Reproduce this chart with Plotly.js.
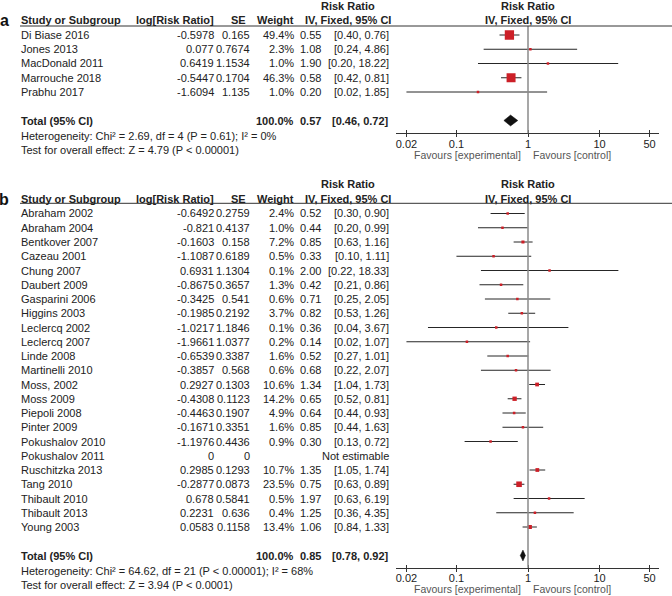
<!DOCTYPE html>
<html><head><meta charset="utf-8">
<script src="https://cdn.plot.ly/plotly-3.0.1.min.js"></script>
<style>html,body{margin:0;padding:0;background:#fff}</style>
</head><body>
<div id="chart" style="width:672px;height:596px"></div>
<script>
// ---------- Panel a data ----------
const studiesA = ['Di Biase 2016','Jones 2013','MacDonald 2011','Marrouche 2018','Prabhu 2017'];
const logRRA = [-0.5978, 0.077, 0.6419, -0.5447, -1.6094];
const seA = [0.165, 0.7674, 1.1534, 0.1704, 1.135];
const weightA = [49.4, 2.3, 1.0, 46.3, 1.0];
const rrA = [0.55, 1.08, 1.90, 0.58, 0.20];
const loA = [0.40, 0.24, 0.20, 0.42, 0.02];
const hiA = [0.76, 4.86, 18.22, 0.81, 1.85];
const totalA = [0.57, 0.46, 0.72];
const hetA = 'Heterogeneity: Chi² = 2.69, df = 4 (P = 0.61); I² = 0%';
const testA = 'Test for overall effect: Z = 4.79 (P < 0.00001)';

// ---------- Panel b data ----------
const studiesB = ['Abraham 2002','Abraham 2004','Bentkover 2007','Cazeau 2001','Chung 2007','Daubert 2009','Gasparini 2006','Higgins 2003','Leclercq 2002','Leclercq 2007','Linde 2008','Martinelli 2010','Moss, 2002','Moss 2009','Piepoli 2008','Pinter 2009','Pokushalov 2010','Pokushalov 2011','Ruschitzka 2013','Tang 2010','Thibault 2010','Thibault 2013','Young 2003'];
const logRRB = [-0.6492,-0.821,-0.1603,-1.1087,0.6931,-0.8675,-0.3425,-0.1985,-1.0217,-1.9661,-0.6539,-0.3857,0.2927,-0.4308,-0.4463,-0.1671,-1.1976,0,0.2985,-0.2877,0.678,0.2231,0.0583];
const seB = [0.2759,0.4137,0.158,0.6189,1.1304,0.3657,0.541,0.2192,1.1846,1.0377,0.3387,0.568,0.1303,0.1123,0.1907,0.3351,0.4436,0,0.1293,0.0873,0.5841,0.636,0.1158];
const weightB = [2.4,1.0,7.2,0.5,0.1,1.3,0.6,3.7,0.1,0.2,1.6,0.6,10.6,14.2,4.9,1.6,0.9,null,10.7,23.5,0.5,0.4,13.4];
const rrB = [0.52,0.44,0.85,0.33,2.00,0.42,0.71,0.82,0.36,0.14,0.52,0.68,1.34,0.65,0.64,0.85,0.30,null,1.35,0.75,1.97,1.25,1.06];
const loB = [0.30,0.20,0.63,0.10,0.22,0.21,0.25,0.53,0.04,0.02,0.27,0.22,1.04,0.52,0.44,0.44,0.13,null,1.05,0.63,0.63,0.36,0.84];
const hiB = [0.90,0.99,1.16,1.11,18.33,0.86,2.05,1.26,3.67,1.07,1.01,2.07,1.73,0.81,0.93,1.63,0.72,null,1.74,0.89,6.19,4.35,1.33];
const totalB = [0.85, 0.78, 0.92];
const hetB = 'Heterogeneity: Chi² = 64.62, df = 21 (P < 0.00001); I² = 68%';
const testB = 'Test for overall effect: Z = 3.94 (P < 0.0001)';

// ---------- Axis ticks ----------
const tickVals = [0.02, 0.1, 1, 10, 50];
const tickText = ['0.02', '0.1', '1', '10', '50'];

// ---------- Layout / style ----------
const W = 672, H = 596;
const FONT = 'Liberation Sans, Arial, Helvetica, sans-serif';
const FS = 11;
const TXT = '#222';
const X_ONE = 528, DECADE = 71.55, X_L = 396, X_R = 659;
const xRange = [(X_L - X_ONE) / DECADE, (X_R - X_ONE) / DECADE];
const COL = {label: 4, study: 21, logrr: 213.5, seHead: 245.5, se: 250, weight: 293.5, est: 320.5, ci: 388.5, rrHead: 348, plotHead: 528};

const panels = [
  {key: '', ov: '3', label: 'a', line: 26, row0: 35, step: 14.25, axis: 133.3, mk: 1.32,
   studies: studiesA, logrr: logRRA, se: seA, w: weightA, rr: rrA, lo: loA, hi: hiA, total: totalA, het: hetA, test: testA},
  {key: '2', ov: '4', label: 'b', line: 203.3, row0: 213.5, step: 14.25, axis: 567.8, mk: 1.15,
   studies: studiesB, logrr: logRRB, se: seB, w: weightB, rr: rrB, lo: loB, hi: hiB, total: totalB, het: hetB, test: testB}
];

const traces = [], annotations = [], shapes = [];
const layout = {
  width: W, height: H, margin: {l: 0, r: 0, t: 0, b: 0},
  paper_bgcolor: '#fff', plot_bgcolor: 'rgba(0,0,0,0)', showlegend: false,
  font: {family: FONT, size: FS, color: TXT}
};

function ann(text, xpx, ypx, xanchor, size, color) {
  annotations.push({text: text, xref: 'paper', yref: 'paper', x: xpx / W, y: 1 - ypx / H,
    xanchor: xanchor, yanchor: 'middle', showarrow: false, borderpad: 0, borderwidth: 0,
    font: {family: FONT, size: size || FS, color: color || TXT}});
}

panels.forEach(p => {
  const xa = 'x' + p.key, ya = 'y' + p.key, xo = 'x' + p.ov;
  const n = p.studies.length;
  const rowPx = r => p.row0 + r * p.step;

  // main axis: labels + upward tick half
  layout['xaxis' + p.key] = {type: 'log', range: xRange, domain: [X_L / W, X_R / W], anchor: ya,
    showline: true, linecolor: '#333', linewidth: 1, ticks: 'inside', ticklen: 3, tickwidth: 1, tickcolor: '#333',
    tickmode: 'array', tickvals: tickVals, ticktext: tickText, tickfont: {family: FONT, size: 11, color: TXT},
    showgrid: false, zeroline: false, fixedrange: true};
  // overlay axis: downward tick half
  layout['xaxis' + p.ov] = {type: 'log', range: xRange, anchor: ya, overlaying: xa, side: 'bottom',
    showline: false, ticks: 'outside', ticklen: 3, tickwidth: 1, tickcolor: '#333',
    tickmode: 'array', tickvals: tickVals, showticklabels: false, showgrid: false, zeroline: false, fixedrange: true};
  layout['yaxis' + p.key] = {domain: [1 - p.axis / H, 1 - p.line / H],
    range: [(p.axis - p.row0) / p.step, (p.line - p.row0) / p.step], visible: false, fixedrange: true};

  // Confidence interval lines
  const cx = [], cy = [];
  p.rr.forEach((v, i) => { if (v !== null) { cx.push(p.lo[i], p.hi[i], null); cy.push(i, i, null); } });
  traces.push({type: 'scatter', mode: 'lines', x: cx, y: cy, xaxis: xa, yaxis: ya,
    line: {color: '#262626', width: 1}, hoverinfo: 'skip'});

  // Weighted squares
  const mx = [], my = [], ms = [];
  p.rr.forEach((v, i) => { if (v !== null) { mx.push(v); my.push(i); ms.push(Math.max(2.5, p.mk * Math.sqrt(p.w[i]))); } });
  traces.push({type: 'scatter', mode: 'markers', x: mx, y: my, xaxis: xa, yaxis: ya, opacity: 1,
    marker: {symbol: 'square', size: ms, color: '#cc1f27', opacity: 1, line: {width: 0}}, hoverinfo: 'skip'});

  // Pooled diamond
  const T = n + 1, h = 0.38;
  traces.push({type: 'scatter', mode: 'lines', fill: 'toself', fillcolor: '#111',
    x: [p.total[1], p.total[0], p.total[2], p.total[0], p.total[1]],
    y: [T, T - h, T, T + h, T], xaxis: xa, yaxis: ya, line: {color: '#111', width: 0.5}, hoverinfo: 'skip'});

  // dummy for overlay tick axis
  traces.push({type: 'scatter', mode: 'markers', x: [1], y: [0], xaxis: xo, yaxis: ya,
    marker: {opacity: 0, size: 1}, hoverinfo: 'skip'});

  // Reference line at RR = 1 and header rule
  shapes.push({type: 'line', xref: xa, x0: 1, x1: 1, yref: ya + ' domain', y0: 0, y1: 1,
    line: {color: '#8a8a8a', width: 1.5}});
  shapes.push({type: 'line', xref: 'paper', x0: 20 / W, x1: 1, yref: 'paper', y0: 1 - p.line / H, y1: 1 - p.line / H,
    line: {color: '#333', width: 1}});

  // Header text
  const h1 = rowPx(-2.05), h2 = rowPx(-1.05);
  ann('<b>' + p.label + '</b>', COL.label, h2 + 0.5, 'center', 16, '#111');
  ann('<b>Risk Ratio</b>', COL.rrHead, h1, 'center');
  ann('<b>Risk Ratio</b>', COL.plotHead, h1, 'center');
  ann('<b>Study or Subgroup</b>', COL.study, h2, 'left');
  ann('<b>log[Risk Ratio]</b>', COL.logrr, h2, 'right');
  ann('<b>SE</b>', COL.seHead, h2, 'right');
  ann('<b>Weight</b>', COL.weight, h2, 'right');
  ann('<b>IV, Fixed, 95% CI</b>', COL.rrHead, h2, 'center');
  ann('<b>IV, Fixed, 95% CI</b>', COL.plotHead, h2, 'center');

  // Study rows
  p.studies.forEach((s, i) => {
    const y = rowPx(i);
    ann(s, COL.study, y, 'left');
    ann(String(p.logrr[i]), COL.logrr, y, 'right');
    ann(String(p.se[i]), COL.se, y, 'right');
    if (p.w[i] !== null) ann(p.w[i].toFixed(1) + '%', COL.weight, y, 'right');
    if (p.rr[i] !== null) {
      ann(p.rr[i].toFixed(2), COL.est, y, 'right');
      ann('[' + p.lo[i].toFixed(2) + ', ' + p.hi[i].toFixed(2) + ']', COL.ci, y, 'right');
    } else {
      ann('Not estimable', COL.ci, y, 'right');
    }
  });

  // Total row & footers
  const yt = rowPx(n + 1);
  ann('<b>Total (95% CI)</b>', COL.study, yt, 'left');
  ann('<b>100.0%</b>', COL.weight, yt, 'right');
  ann('<b>' + p.total[0].toFixed(2) + '</b>', COL.est, yt, 'right');
  ann('<b>[' + p.total[1].toFixed(2) + ', ' + p.total[2].toFixed(2) + ']</b>', COL.ci, yt, 'right');
  ann(p.het, COL.study, rowPx(n + 2.1), 'left');
  ann(p.test, COL.study, rowPx(n + 3.1), 'left');

  // Favours labels
  ann('Favours [experimental]', 521, p.axis + 21.5, 'right', 10.5, '#555');
  ann('Favours [control]', 533, p.axis + 21.5, 'left', 10.5, '#555');
});

layout.annotations = annotations;
layout.shapes = shapes;
Plotly.newPlot('chart', traces, layout, {staticPlot: true, displayModeBar: false});
</script>
</body></html>
